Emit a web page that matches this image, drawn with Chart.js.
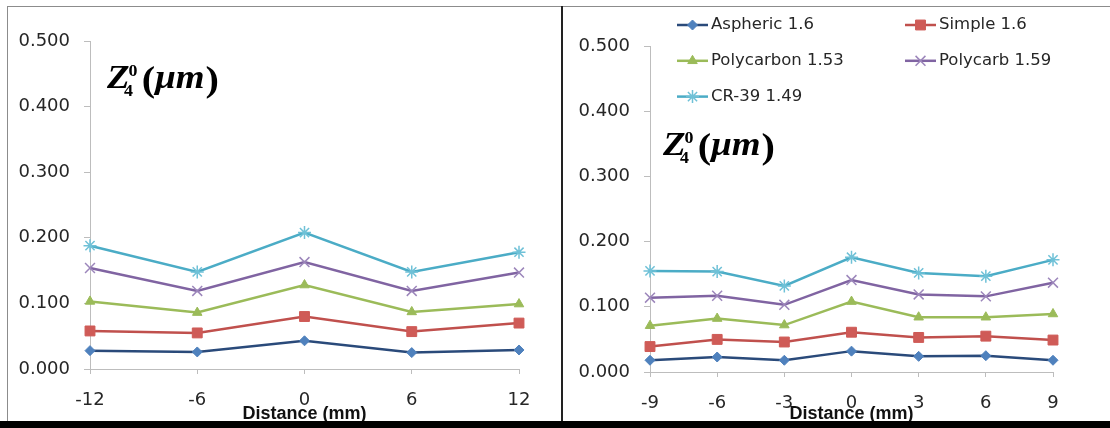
<!DOCTYPE html>
<html>
<head>
<meta charset="utf-8">
<title>Z4 0 spherical aberration vs distance</title>
<script src="https://cdn.jsdelivr.net/npm/chart.js@4.4.1/dist/chart.umd.min.js"></script>
<style>
  html, body { margin: 0; padding: 0; background: #fff; }
  body { width: 1110px; height: 428px; position: relative; overflow: hidden; }
  .panel { position: absolute; top: 8px; height: 413px; }
  #leftPanel { left: 9px; width: 550px; }
  #rightPanel { left: 564px; width: 546px; }
  .frame-top { position: absolute; left: 7px; top: 6px; width: 1103px; height: 1px; background: #8c8c8c; }
  .frame-left { position: absolute; left: 7px; top: 6px; width: 1px; height: 415px; background: #8c8c8c; }
  .divider { position: absolute; left: 561px; top: 6px; width: 2px; height: 415px; background: #222; }
  .floor { position: absolute; left: 0; top: 421px; width: 1110px; height: 7px; background: #000; }
</style>
</head>
<body>
<div class="frame-top"></div>
<div class="frame-left"></div>
<div class="panel" id="leftPanel"><canvas id="leftChart"></canvas></div>
<div class="panel" id="rightPanel"><canvas id="rightChart"></canvas></div>
<div class="divider"></div>
<div class="floor"></div>

<script>
// lens materials, same order in both panels
const lensNames = ['Aspheric 1.6', 'Simple 1.6', 'Polycarbon 1.53', 'Polycarb 1.59', 'CR-39 1.49'];

// left panel: -12 .. 12 mm
const distWide = ['-12', '-6', '0', '6', '12'];
const asphericWide   = [0.028, 0.026, 0.043, 0.025, 0.029];
const simpleWide     = [0.058, 0.055, 0.080, 0.057, 0.070];
const polycarbonWide = [0.103, 0.086, 0.128, 0.087, 0.099];
const polycarbWide   = [0.154, 0.119, 0.163, 0.119, 0.147];
const cr39Wide       = [0.188, 0.148, 0.208, 0.148, 0.178];

// right panel: -9 .. 9 mm
const distNarrow = ['-9', '-6', '-3', '0', '3', '6', '9'];
const asphericNarrow   = [0.018, 0.023, 0.018, 0.032, 0.024, 0.025, 0.018];
const simpleNarrow     = [0.039, 0.050, 0.046, 0.061, 0.053, 0.055, 0.049];
const polycarbonNarrow = [0.071, 0.082, 0.072, 0.108, 0.084, 0.084, 0.089];
const polycarbNarrow   = [0.114, 0.117, 0.103, 0.141, 0.119, 0.116, 0.137];
const cr39Narrow       = [0.155, 0.154, 0.132, 0.176, 0.152, 0.147, 0.172];

const yMax = 0.5;
const yStep = 0.1;

// office-style series look
const seriesStyle = [
  { borderColor: '#2a4a7a', pointStyle: 'rectRot', pointRadius: 5, pointBackgroundColor: '#4f81bd', pointBorderColor: '#4f81bd', pointBorderWidth: 1 },
  { borderColor: '#c0504d', pointStyle: 'rect', pointRadius: 7, pointBackgroundColor: '#cf5b57', pointBorderColor: '#cf5b57', pointBorderWidth: 1 },
  { borderColor: '#9bbb59', pointStyle: 'triangle', pointRadius: 5.5, pointBackgroundColor: '#9bbb59', pointBorderColor: '#9bbb59', pointBorderWidth: 1 },
  { borderColor: '#8064a2', pointStyle: 'crossRot', pointRadius: 7, pointBackgroundColor: '#9c86bb', pointBorderColor: '#9c86bb', pointBorderWidth: 1.5 },
  { borderColor: '#4bacc6', pointStyle: 'star', pointRadius: 6.5, pointBackgroundColor: '#6fc1d7', pointBorderColor: '#6fc1d7', pointBorderWidth: 1.5 }
];

const tickFont = { family: 'DejaVu Sans', size: 18 };
const axisGray = '#bdbdbd';

// Z_4^0 (um) equation label
function zLabel(x, base) {
  return {
    id: 'zLabel',
    afterDraw(chart) {
      const ctx = chart.ctx;
      ctx.save();
      ctx.translate(x, base);
      ctx.scale(1.12, 1);
      ctx.fillStyle = '#000';
      ctx.textBaseline = 'alphabetic';
      ctx.font = 'italic bold 33px "Liberation Serif"';
      ctx.fillText('Z', 0, 0);
      const wZ = ctx.measureText('Z').width;
      ctx.font = 'bold 16px "Liberation Serif"';
      ctx.fillText('0', wZ - 1, -12);
      ctx.fillText('4', wZ - 5, 8);
      let cx = 31;
      ctx.font = 'bold 36px "Liberation Serif"';
      ctx.fillText('(', cx, 3);
      cx += ctx.measureText('(').width;
      ctx.font = 'italic bold 33px "Liberation Serif"';
      ctx.fillText('\u03bcm', cx, 0);
      cx += ctx.measureText('\u03bcm').width + 1;
      ctx.font = 'bold 36px "Liberation Serif"';
      ctx.fillText(')', cx, 3);
      ctx.restore();
    }
  };
}

// two-column legend in the top of the right panel
const gridLegend = {
  id: 'gridLegend',
  afterDraw(chart) {
    const ctx = chart.ctx;
    chart.data.datasets.forEach((ds, i) => {
      const x0 = (i % 2) ? 341 : 113;
      const y = 17 + Math.floor(i / 2) * 35.8;
      ctx.save();
      ctx.strokeStyle = ds.borderColor;
      ctx.lineWidth = 2.5;
      ctx.beginPath();
      ctx.moveTo(x0, y);
      ctx.lineTo(x0 + 31, y);
      ctx.stroke();
      ctx.fillStyle = ds.pointBackgroundColor;
      ctx.strokeStyle = ds.pointBorderColor;
      ctx.lineWidth = ds.pointBorderWidth;
      Chart.helpers.drawPoint(ctx, {
        pointStyle: ds.pointStyle, radius: ds.pointRadius, rotation: 0, borderWidth: ds.pointBorderWidth
      }, x0 + 15.5, y);
      ctx.fillStyle = '#262626';
      ctx.font = '16.5px "DejaVu Sans"';
      ctx.textBaseline = 'middle';
      ctx.fillText(ds.label, x0 + 34, y);
      ctx.restore();
    });
  }
};

function buildChart(id, labels, series, geo, extraPlugins) {
  return new Chart(document.getElementById(id), {
    type: 'line',
    data: {
      labels: labels,
      datasets: series.map((values, i) => ({
        label: lensNames[i],
        data: values,
        borderWidth: 2.5,
        clip: false,
        fill: false,
        tension: 0,
        ...seriesStyle[i]
      }))
    },
    options: {
      responsive: true,
      maintainAspectRatio: false,
      animation: false,
      layout: { padding: { top: geo.top, right: geo.right, left: 0, bottom: 0 } },
      plugins: { legend: { display: false }, tooltip: { enabled: false } },
      scales: {
        x: {
          type: 'category',
          offset: false,
          grid: { display: true, drawOnChartArea: false, drawTicks: true, tickLength: 5, color: axisGray },
          border: { display: true, color: axisGray, width: 1 },
          ticks: { color: '#262626', font: tickFont, padding: 16, maxRotation: 0, autoSkip: false },
          title: {
            display: true,
            text: 'Distance (mm)',
            color: '#111',
            font: { family: 'Liberation Sans', size: 18, weight: 'bold' },
            padding: { top: 0, bottom: -4 }
          },
          afterFit: s => { s.height = geo.xh; }
        },
        y: {
          min: 0,
          max: yMax,
          grid: { display: true, drawOnChartArea: false, drawTicks: true, tickLength: 6, color: axisGray },
          border: { display: true, color: axisGray, width: 1 },
          ticks: { stepSize: yStep, color: '#262626', font: tickFont, padding: 14, callback: v => v.toFixed(3) },
          afterFit: s => { s.width = geo.yw; }
        }
      }
    },
    plugins: extraPlugins
  });
}

buildChart('leftChart', distWide,
  [asphericWide, simpleWide, polycarbonWide, polycarbWide, cr39Wide],
  { top: 33, right: 40, xh: 52, yw: 81 },
  [zLabel(98, 80)]);

buildChart('rightChart', distNarrow,
  [asphericNarrow, simpleNarrow, polycarbonNarrow, polycarbNarrow, cr39Narrow],
  { top: 38, right: 57, xh: 49, yw: 86 },
  [zLabel(99, 147), gridLegend]);
</script>
</body>
</html>
